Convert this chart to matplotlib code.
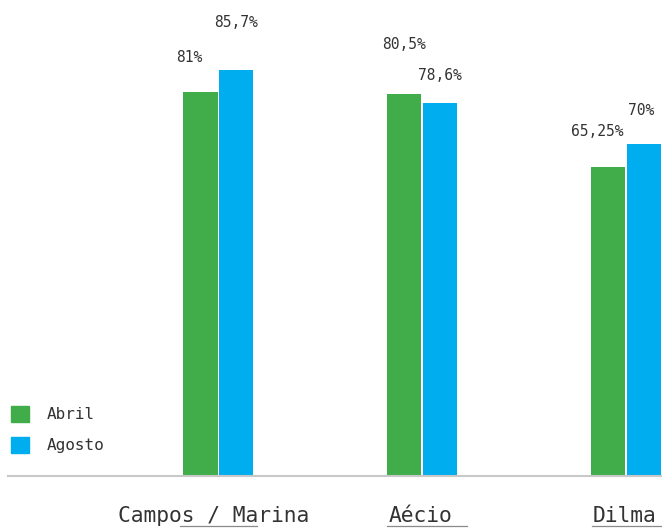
import numpy as np
import matplotlib
matplotlib.use("Agg")
import matplotlib.pyplot as plt
from matplotlib.lines import Line2D
from matplotlib.patches import Patch

categories = ["Campos / Marina", "Aécio", "Dilma"]
abril = [81, 80.5, 65.25]
agosto = [85.7, 78.6, 70]
abril_labels = ["81%", "80,5%", "65,25%"]
agosto_labels = ["85,7%", "78,6%", "70%"]
series_names = ["Abril", "Agosto"]

GREEN = "#40ad4a"
BLUE = "#00adee"
TEXT = "#333333"

plt.rcParams["font.family"] = ["DejaVu Sans Mono", "DejaVu Sans"]

fig = plt.figure(figsize=(6.62, 5.28), dpi=100)
ax = fig.add_axes([8 / 662, 52 / 528, 654 / 662, 474 / 528])

x = np.arange(len(categories))
w = 0.167
gap = 0.006
b1 = ax.bar(x - (w + gap) / 2, abril, w, color=GREEN)
b2 = ax.bar(x + (w + gap) / 2, agosto, w, color=BLUE)

ax.set_xlim(-1.03, 2.176)
ax.set_ylim(0, 100)

# value labels, nudged per bar (points)
off_abril = [(-8, 25), (0, 36), (-8, 25)]
off_agosto = [(0, 34), (0, 20), (-2, 24)]
for bars, labels, offs in ((b1, abril_labels, off_abril), (b2, agosto_labels, off_agosto)):
    for rect, lab, (dx, dy) in zip(bars, labels, offs):
        ax.annotate(lab, (rect.get_x() + rect.get_width() / 2, rect.get_height()),
                    xytext=(dx, dy), textcoords="offset points",
                    ha="center", va="center", fontsize=10.5, color=TEXT)

for s in ("top", "right", "left"):
    ax.spines[s].set_visible(False)
ax.spines["bottom"].set_color("#c8c8c8")
ax.spines["bottom"].set_linewidth(1.5)
ax.set_yticks([])
ax.set_xticks([])

# category names under the axis
name_dx = [-0.02, -0.01, -0.01]
for xi, name, dx in zip(x, categories, name_dx):
    ax.text(xi + dx, -0.085, name, transform=ax.get_xaxis_transform(),
            ha="center", va="center", fontsize=15.3, color=TEXT)

# underline strokes below names
for x0, x1 in ((180, 257), (387, 467), (592, 661)):
    fig.add_artist(Line2D([x0 / 662, x1 / 662], [2 / 528, 2 / 528],
                          color="#8a8a8a", lw=0.9))

handles = [Patch(color=GREEN), Patch(color=BLUE)]
ax.legend(handles, series_names, loc="lower left", bbox_to_anchor=(-0.005, 0.035),
          frameon=False, fontsize=11.5, handlelength=1.15, handleheight=1.15,
          handletextpad=1.05, labelspacing=0.9, labelcolor=TEXT, borderaxespad=0)

fig.savefig("out.png", dpi=100)
